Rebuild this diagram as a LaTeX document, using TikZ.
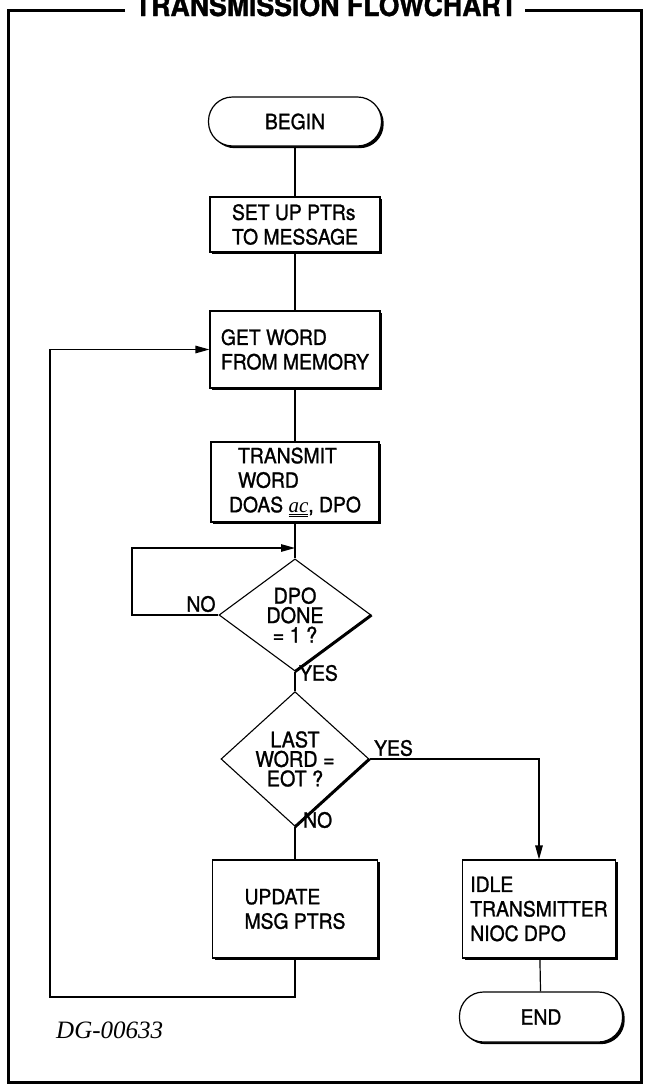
\documentclass[tikz,border=0pt]{standalone}
\usepackage{fontspec}
\setmainfont{TeX Gyre Heros}[FakeStretch=0.92, FakeBold=1.2]
\newfontfamily\serifit{Liberation Serif}
\usetikzlibrary{shapes.geometric,arrows.meta,shadows}

\tikzset{
  txt/.style={font=\fontsize{21}{24.5}\selectfont, align=left},
  procbox/.style={txt, draw, line width=1.1pt, fill=white, inner sep=0pt,
    drop shadow={shadow xshift=2.2pt, shadow yshift=-2.2pt, opacity=1, fill=black}},
  stadium/.style={txt, draw, line width=1.2pt, fill=white, rounded corners=24pt,
    drop shadow={shadow xshift=2.2pt, shadow yshift=-2.2pt, opacity=1, fill=black}},
  decision/.style={font=\fontsize{21.5}{19.5}\selectfont, align=center, shape=diamond,
    draw, line width=1.1pt, fill=white, inner sep=0pt},
  conn/.style={line width=1.2pt},
  arr/.style={conn, -{Triangle[length=14pt,width=7.5pt]}},
  lbl/.style={font=\fontsize{21}{20}\selectfont, inner sep=0pt},
}

\begin{document}
\begin{tikzpicture}[x=1pt,y=-1pt]
  \useasboundingbox (0,0) rectangle (647,1090);

  % outer frame with the title set into its top edge
  \draw[line width=3pt] (125,10) -- (8,10) -- (8,1082) -- (641,1082) -- (641,10) -- (525,10);
  \node[font=\bfseries\fontsize{29}{29}\selectfont, anchor=base, inner sep=0pt]
    (title) at (326,16) {TRANSMISSION FLOWCHART};

  % main column
  \node[stadium, minimum width=173pt, minimum height=49pt] (begin) at (295,121.5) {BEGIN};
  \node[procbox, minimum width=170pt, minimum height=55pt] (setup) at (295,224.5)
    {SET UP PTRs\\TO MESSAGE};
  \node[procbox, minimum width=170pt, minimum height=77pt] (getword) at (295,349.5)
    {GET WORD\\FROM MEMORY};
  \node[procbox, minimum width=168pt, minimum height=80pt] (transmit) at (295,482)
    {\hspace*{9pt}TRANSMIT\\\hspace*{9pt}WORD\\DOAS {\serifit\itshape$\underline{\underline{\hbox{ac}}}$}, DPO};
  \node[decision, minimum width=152pt, minimum height=86pt] (dpo) at (295,615)
    {DPO\\DONE\\= 1 ?};
  \node[decision, minimum width=148pt, minimum height=84pt] (last) at (295,759)
    {LAST\\WORD =\\EOT ?};
  \node[procbox, minimum width=165pt, minimum height=98pt] (update) at (295,909)
    {UPDATE\\MSG PTRS};

  % exit branch
  \node[procbox, minimum width=153pt, minimum height=98pt] (idle) at (539,909)
    {IDLE\\TRANSMITTER\\NIOC DPO};
  \node[stadium, minimum width=163pt, minimum height=50pt] (end) at (541,1017) {END};

  % heavy lower-right edges of the decisions
  \draw[line width=3pt] (dpo.east) -- (dpo.south);
  \draw[line width=3pt] (last.east) -- (last.south);

  % loop and join points
  \coordinate (waitcorner) at (132,548);
  \coordinate (waitjoin) at (295,548);
  \coordinate (loopcorner) at (50,997);

  % connectors
  \draw[conn] (begin) -- (setup);
  \draw[conn] (setup) -- (getword);
  \draw[conn] (getword) -- (transmit);
  \draw[conn] (transmit) -- (dpo);
  \draw[conn] (dpo) -- (last);
  \draw[conn] (last) -- (update);
  \draw[arr] (dpo.west) -| (waitcorner) -- (waitjoin);
  \draw[arr] (last.east) -| (idle.north);
  \draw[conn] (idle) -- (end);
  \draw[arr] (update.south) |- (loopcorner) |- (getword.west);

  % branch labels
  \node[lbl] (nowait) at (201,604) {NO};
  \node[lbl, anchor=west] (yesdone) at (299,673) {YES};
  \node[lbl, anchor=west] (yeslast) at (374,748) {YES};
  \node[lbl, anchor=west] (nolast) at (303,820) {NO};

  % drawing number
  \node[font=\serifit\itshape\fontsize{25}{25}\selectfont, anchor=west, inner sep=0pt]
    (dgno) at (56,1030) {DG-00633};
\end{tikzpicture}
\end{document}
